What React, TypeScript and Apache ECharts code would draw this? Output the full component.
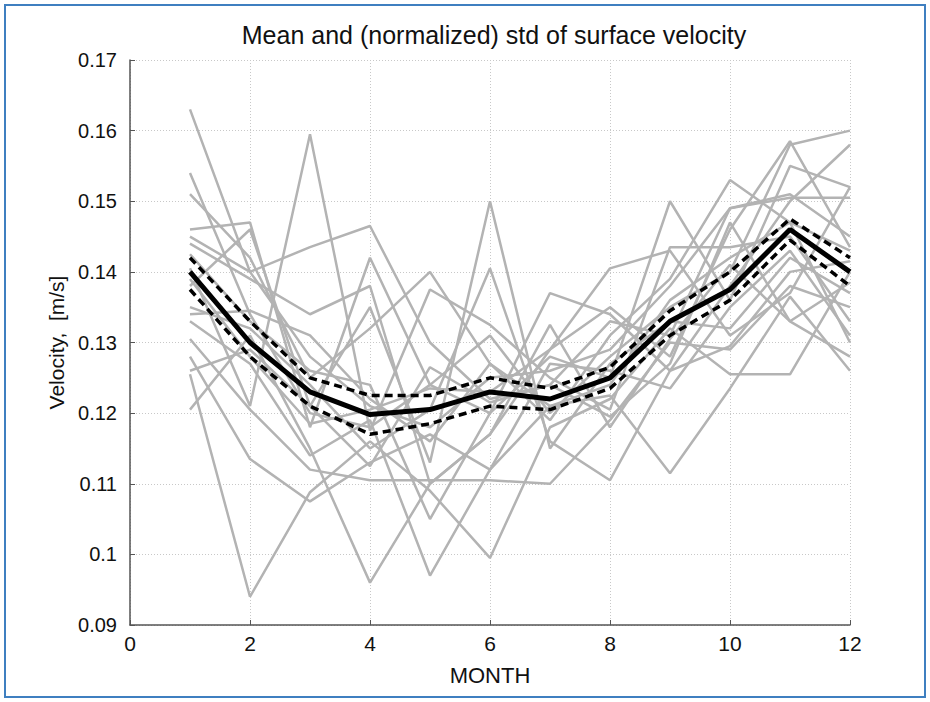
import React, { useEffect, useRef } from "react";
import * as echarts from "echarts";

const months = [1, 2, 3, 4, 5, 6, 7, 8, 9, 10, 11, 12];

const years: number[][] = [
  [0.163, 0.140, 0.128, 0.121, 0.118, 0.125, 0.126, 0.129, 0.138, 0.149, 0.151, 0.145],
  [0.154, 0.134, 0.120, 0.118, 0.124, 0.131, 0.120, 0.128, 0.135, 0.140, 0.158, 0.160],
  [0.151, 0.142, 0.125, 0.132, 0.140, 0.127, 0.119, 0.131, 0.139, 0.153, 0.147, 0.143],
  [0.146, 0.147, 0.118, 0.142, 0.124, 0.120, 0.128, 0.125, 0.150, 0.136, 0.155, 0.152],
  [0.145, 0.140, 0.1435, 0.1465, 0.130, 0.122, 0.124, 0.133, 0.131, 0.149, 0.1505, 0.1505],
  [0.144, 0.139, 0.134, 0.138, 0.110, 0.117, 0.129, 0.135, 0.128, 0.146, 0.1585, 0.1435],
  [0.1405, 0.121, 0.1595, 0.1175, 0.1375, 0.1325, 0.125, 0.1205, 0.1435, 0.1435, 0.145, 0.133],
  [0.138, 0.146, 0.121, 0.135, 0.113, 0.150, 0.115, 0.127, 0.133, 0.132, 0.142, 0.137],
  [0.135, 0.132, 0.124, 0.115, 0.1205, 0.1405, 0.116, 0.1105, 0.126, 0.138, 0.150, 0.158],
  [0.133, 0.127, 0.114, 0.119, 0.097, 0.112, 0.127, 0.126, 0.1235, 0.135, 0.143, 0.131],
  [0.1305, 0.1205, 0.112, 0.1105, 0.1105, 0.1105, 0.110, 0.119, 0.130, 0.129, 0.138, 0.135],
  [0.128, 0.1135, 0.1075, 0.113, 0.117, 0.112, 0.121, 0.1225, 0.1115, 0.1235, 0.1365, 0.126],
  [0.1255, 0.094, 0.1088, 0.116, 0.109, 0.0995, 0.118, 0.122, 0.132, 0.1255, 0.1255, 0.140],
  [0.1205, 0.131, 0.115, 0.096, 0.110, 0.117, 0.1325, 0.118, 0.1305, 0.141, 0.133, 0.128],
  [0.1425, 0.133, 0.126, 0.124, 0.105, 0.120, 0.137, 0.134, 0.126, 0.1295, 0.140, 0.1415],
  [0.139, 0.128, 0.1185, 0.1205, 0.1235, 0.123, 0.129, 0.1405, 0.143, 0.131, 0.137, 0.152],
  [0.134, 0.1345, 0.131, 0.122, 0.116, 0.127, 0.121, 0.124, 0.136, 0.142, 0.147, 0.130],
  [0.126, 0.129, 0.121, 0.1125, 0.1265, 0.1215, 0.124, 0.1195, 0.127, 0.147, 0.133, 0.1385],
];

const meanVel = [0.140, 0.130, 0.123, 0.1198, 0.1205, 0.123, 0.122, 0.125, 0.133, 0.1375, 0.146, 0.140];
const upperStd = [0.142, 0.133, 0.125, 0.1225, 0.1225, 0.125, 0.1235, 0.1265, 0.1345, 0.140, 0.1475, 0.142];
const lowerStd = [0.1375, 0.128, 0.121, 0.117, 0.1185, 0.121, 0.1205, 0.1235, 0.131, 0.136, 0.1445, 0.138];

const FONT = "Liberation Sans, Arial, Helvetica, sans-serif";

export default function App() {
  const ref = useRef<HTMLDivElement>(null);
  useEffect(() => {
    if (!ref.current) return;
    const chart = echarts.init(ref.current, null, { renderer: "svg" });
    const pair = (arr: number[]) => months.map((m, i) => [m, arr[i]]);
    const greySeries = years.map((y, k) => ({
      type: "line",
      name: "year" + (k + 1),
      data: pair(y),
      symbol: "none",
      lineStyle: { color: "#b3b3b3", width: 2.5 },
      z: 2,
    }));
    chart.setOption({
      animation: false,
      backgroundColor: "#ffffff",
      title: {
        text: "Mean and (normalized) std of surface velocity",
        left: 489,
        top: 17,
        textAlign: "center",
        textStyle: { fontFamily: FONT, fontSize: 25, fontWeight: "normal", color: "#111" },
      },
      grid: { left: 130, right: 80, top: 60, bottom: 77 },
      xAxis: {
        type: "value",
        min: 0,
        max: 12,
        interval: 2,
        name: "MONTH",
        nameLocation: "middle",
        nameGap: 39,
        nameTextStyle: { fontFamily: FONT, fontSize: 22, color: "#111" },
        axisLine: { show: true, lineStyle: { color: "#555", width: 1.5 } },
        axisTick: { show: true, inside: true, length: 5, lineStyle: { color: "#555" } },
        axisLabel: { fontFamily: FONT, fontSize: 21, color: "#111", margin: 8 },
        splitLine: { show: true, lineStyle: { color: "#c8c8c8", type: [1, 2], width: 1 } },
      },
      yAxis: {
        type: "value",
        min: 0.09,
        max: 0.17,
        interval: 0.01,
        name: "Velocity,  [m/s]",
        nameLocation: "middle",
        nameGap: 49,
        nameTextStyle: { fontFamily: FONT, fontSize: 21, color: "#111" },
        axisLine: { show: true, lineStyle: { color: "#555", width: 1.5 } },
        axisTick: { show: true, inside: true, length: 5, lineStyle: { color: "#555" } },
        axisLabel: {
          fontFamily: FONT,
          fontSize: 20,
          color: "#111",
          margin: 13,
          formatter: (v: number) => String(Math.round(v * 100) / 100),
        },
        splitLine: { show: true, lineStyle: { color: "#c8c8c8", type: [1, 2], width: 1 } },
      },
      graphic: [
        {
          type: "rect",
          shape: { x: 5, y: 5, width: 920, height: 692 },
          style: { fill: "none", stroke: "#3f7fc0", lineWidth: 2 },
          silent: true,
          z: 100,
        },
      ],
      series: [
        ...greySeries,
        {
          type: "line",
          name: "mean",
          data: pair(meanVel),
          symbol: "none",
          lineStyle: { color: "#000", width: 5 },
          z: 5,
        },
        {
          type: "line",
          name: "mean+std",
          data: pair(upperStd),
          symbol: "none",
          lineStyle: { color: "#000", width: 3.5, type: [8, 5] },
          z: 5,
        },
        {
          type: "line",
          name: "mean-std",
          data: pair(lowerStd),
          symbol: "none",
          lineStyle: { color: "#000", width: 3.5, type: [8, 5] },
          z: 5,
        },
      ],
    });
    return () => chart.dispose();
  }, []);
  return (
    <div
      ref={ref}
      style={{ position: "fixed", left: 0, top: 0, width: 930, height: 702 }}
    />
  );
}
